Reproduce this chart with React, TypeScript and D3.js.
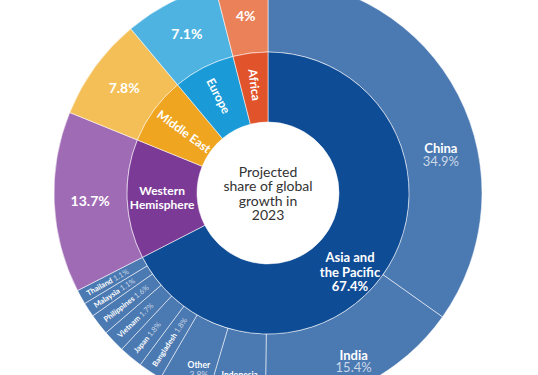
import React from 'react';
import * as d3 from 'd3';

const regions = ['Asia and the Pacific', 'Western Hemisphere', 'Middle East', 'Europe', 'Africa'];
const regionShares = [67.4, 13.7, 7.8, 7.1, 4];
const regionInnerColors = ['#0F4C96', '#7C3A97', '#EFA520', '#1A9AD6', '#E1532A'];
const regionOuterColors = ['#4B79B2', '#A06BB5', '#F4BF56', '#4FB3E2', '#EA8159'];

const asiaCountries = ['China', 'India', 'Indonesia', 'Other', 'Bangladesh', 'Japan', 'Vietnam', 'Philippines', 'Malaysia', 'Thailand'];
const asiaShares = [34.9, 15.4, 4.4, 3.8, 1.8, 1.8, 1.7, 1.6, 1.1, 1.1];

const centerLines = ['Projected', 'share of global', 'growth in', '2023'];

const W = 538;
const H = 375;
const CX = 268;
const CY = 193;
const R0 = 71;
const R1 = 141;
const R2 = 214;
const FONT = 'Lato, "Noto Sans", sans-serif';

type Node = { name: string; value?: number; region?: number; children?: Node[] };

function fmt(v: number) {
  return `${v}%`;
}

export default function App() {
  const data: Node = {
    name: 'root',
    children: regions.map((r, i) => ({
      name: r,
      region: i,
      children:
        i === 0
          ? asiaCountries.map((c, j) => ({ name: c, value: asiaShares[j], region: i }))
          : [{ name: r + ' outer', value: regionShares[i], region: i }],
    })),
  };
  const root = d3.hierarchy<Node>(data).sum((d) => (d.children ? 0 : d.value || 0));
  const part = d3.partition<Node>().size([2 * Math.PI, 1]);
  const tree = part(root);

  const innerArc = d3.arc<any>().innerRadius(R0).outerRadius(R1).startAngle((d) => d.x0).endAngle((d) => d.x1);
  const outerArc = d3.arc<any>().innerRadius(R1).outerRadius(R2).startAngle((d) => d.x0).endAngle((d) => d.x1);

  const inner = tree.children || [];
  const outer = tree.leaves();

  const pos = (a: number, r: number) => [r * Math.sin(a), -r * Math.cos(a)];
  const deg = (a: number) => (a * 180) / Math.PI;
  const mid = (d: any) => (d.x0 + d.x1) / 2;

  const innerLabels: React.ReactNode[] = [];
  inner.forEach((d: any, i: number) => {
    const a = mid(d);
    const name = d.data.name;
    if (i === 0) {
      const [x, y] = pos((134 * Math.PI) / 180, 114);
      const lines = ['Asia and', 'the Pacific', fmt(regionShares[0])];
      innerLabels.push(
        <text key={name} x={x} y={y} textAnchor="middle" fill="#fff" fontFamily={FONT} fontWeight={700} fontSize={13}>
          {lines.map((l, k) => (
            <tspan key={k} x={x} y={y + (k - 1) * 14.3} dy="0.35em">
              {l}
            </tspan>
          ))}
        </text>
      );
    } else if (i === 1) {
      const [x, y] = pos(a, 106);
      const lines = ['Western', 'Hemisphere'];
      innerLabels.push(
        <text key={name} x={x} y={y} textAnchor="middle" fill="#fff" fontFamily={FONT} fontWeight={700} fontSize={12}>
          {lines.map((l, k) => (
            <tspan key={k} x={x} y={y + (k - 0.5) * 14.3} dy="0.35em">
              {l}
            </tspan>
          ))}
        </text>
      );
    } else {
      const r = i === 2 ? 104 : 109;
      const [x, y] = pos(a, r);
      const rot = deg(a) - 270;
      innerLabels.push(
        <text
          key={name}
          transform={`translate(${x},${y}) rotate(${rot})`}
          textAnchor="middle"
          dy="0.35em"
          fill="#fff"
          fontFamily={FONT}
          fontWeight={700}
          fontSize={12}
        >
          {name}
        </text>
      );
    }
  });

  const outerLabels: React.ReactNode[] = [];
  outer.forEach((d: any) => {
    const a = mid(d);
    const reg = d.data.region;
    if (reg !== 0) {
      const [x, y] = pos(a, 178);
      outerLabels.push(
        <text key={d.data.name} x={x} y={y} dy="0.35em" textAnchor="middle" fill="#fff" fontFamily={FONT} fontWeight={700} fontSize={14}>
          {fmt(d.data.value)}
        </text>
      );
      return;
    }
    const name = d.data.name;
    const v = d.data.value;
    if (name === 'China' || name === 'India' || name === 'Indonesia' || name === 'Other') {
      let ang = a;
      let r = 184;
      let fs = 13;
      let gap = 12.5;
      if (name === 'China') {
        ang = (77.6 * Math.PI) / 180;
        r = 177;
      } else if (name === 'India') {
        r = 189;
      } else if (name === 'Indonesia') {
        r = 189;
        fs = 8.5;
        gap = 10;
      } else {
        ang = a - (2 * Math.PI) / 180;
        r = 190;
        fs = 8.5;
        gap = 10;
      }
      const [x, y] = pos(ang, r);
      outerLabels.push(
        <text key={name} textAnchor="middle" fontFamily={FONT} fontSize={fs}>
          <tspan x={x} y={y - gap / 2} dy="0.35em" fill="#fff" fontWeight={700}>
            {name}
          </tspan>
          <tspan x={x} y={y + gap / 2} dy="0.35em" fill="#fff" fillOpacity={0.72} fontWeight={400}>
            {fmt(v)}
          </tspan>
        </text>
      );
    } else {
      const [x, y] = pos(a, 207);
      const rot = deg(a) - 270;
      outerLabels.push(
        <text
          key={name}
          transform={`translate(${x},${y}) rotate(${rot})`}
          textAnchor="start"
          dy="0.35em"
          fontFamily={FONT}
          fontSize={7.5}
        >
          <tspan fill="#fff" fontWeight={700}>
            {name}
          </tspan>
          <tspan fill="#fff" fillOpacity={0.7} fontWeight={400}>
            {' ' + fmt(v)}
          </tspan>
        </text>
      );
    }
  });

  return (
    <svg width={W} height={H} style={{ position: 'absolute', left: 0, top: 0, background: '#fff' }}>
      <g transform={`translate(${CX},${CY})`}>
        {outer.map((d: any) => (
          <path
            key={'o' + d.data.name}
            d={outerArc(d) || ''}
            fill={regionOuterColors[d.data.region]}
            stroke="#fff"
            strokeOpacity={0.6}
            strokeWidth={0.9}
          />
        ))}
        {inner.map((d: any, i: number) => (
          <path
            key={'i' + d.data.name}
            d={innerArc(d) || ''}
            fill={regionInnerColors[i]}
            stroke="#fff"
            strokeOpacity={0.6}
            strokeWidth={0.9}
          />
        ))}
        {innerLabels}
        {outerLabels}
        <text textAnchor="middle" fill="#333" fontFamily={FONT} fontSize={14}>
          {centerLines.map((l, k) => (
            <tspan key={k} x={0} y={(k - 1.5) * 14.4 + 0.5} dy="0.35em">
              {l}
            </tspan>
          ))}
        </text>
      </g>
    </svg>
  );
}
